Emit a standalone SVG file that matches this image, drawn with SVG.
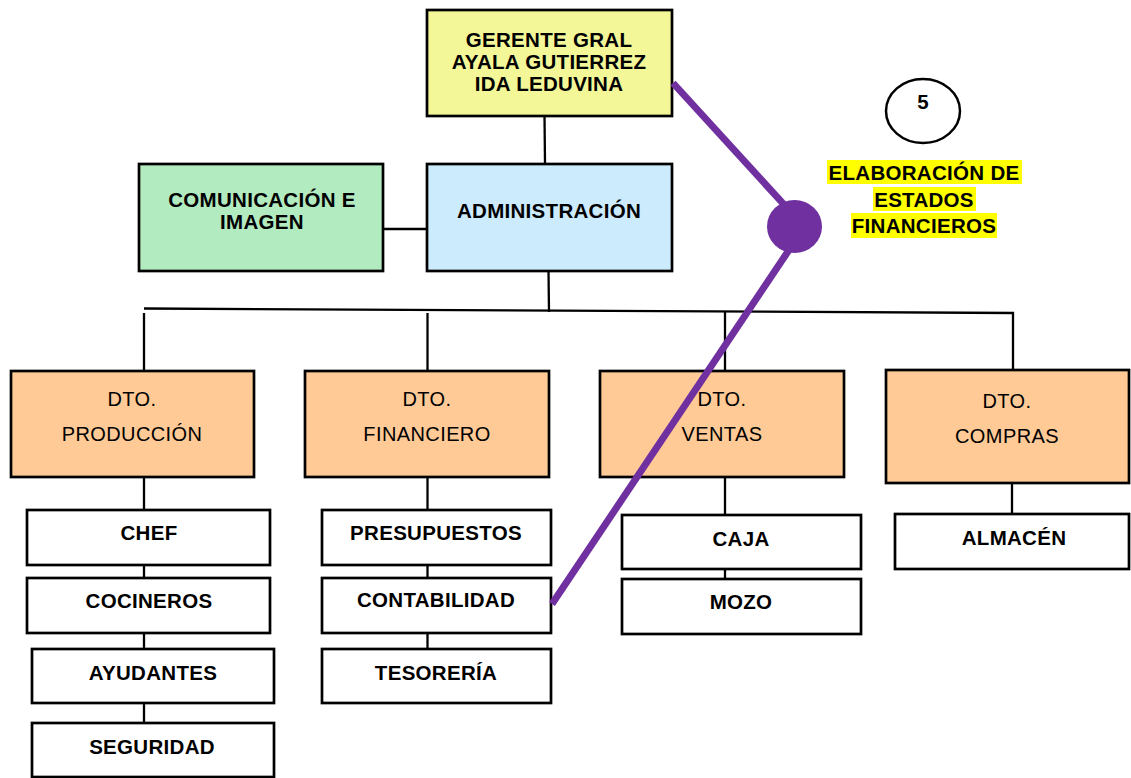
<svg xmlns="http://www.w3.org/2000/svg" width="1131" height="778" viewBox="0 0 1131 778">
<style>
.box{stroke:#000;stroke-width:2.7}
.w{fill:#fff}
.dto{fill:#FFCA96}
.conn line,.conn polyline{stroke:#000;stroke-width:2.3;fill:none}
.b{font-family:"Liberation Sans",Arial,sans-serif;font-weight:bold;font-size:20.5px;fill:#000;text-anchor:middle;letter-spacing:0.3px}
.r{font-family:"Liberation Sans",Arial,sans-serif;font-size:20px;fill:#000;text-anchor:middle;letter-spacing:0.4px}
.hl{fill:#FFFF00}
</style>
<rect width="1131" height="778" fill="#fff"/>
<g id="connectors" class="conn">
<line x1="544.5" y1="116" x2="545" y2="164"/>
<line x1="383" y1="229" x2="427" y2="229"/>
<line x1="548.5" y1="271" x2="549" y2="312"/>
<polyline points="144,308.5 1013,313 1013,370"/>
<line x1="144" y1="313" x2="144" y2="371"/>
<line x1="427.5" y1="313" x2="427.5" y2="371"/>
<line x1="725" y1="312" x2="725" y2="371"/>
<line x1="144" y1="477" x2="144" y2="510"/>
<line x1="144" y1="565" x2="144" y2="578"/>
<line x1="144" y1="633" x2="144" y2="649"/>
<line x1="144" y1="703" x2="144" y2="723"/>
<line x1="427.5" y1="477" x2="427.5" y2="510"/>
<line x1="427.5" y1="565" x2="427.5" y2="578"/>
<line x1="427.5" y1="633" x2="427.5" y2="649"/>
<line x1="725" y1="477" x2="725" y2="515"/>
<line x1="725" y1="569" x2="725" y2="579"/>
<line x1="1012" y1="483" x2="1012" y2="514"/>
</g>
<g id="gerente"><rect class="box" x="427" y="10" width="245" height="106" fill="#F3F797"/>
<text class="b" x="549" y="47">GERENTE GRAL</text>
<text class="b" x="549" y="69">AYALA GUTIERREZ</text>
<text class="b" x="549" y="91">IDA LEDUVINA</text></g>
<g id="administracion"><rect class="box" x="427" y="164" width="245" height="107" fill="#CCEBFC"/>
<text class="b" x="549" y="218">ADMINISTRACIÓN</text></g>
<g id="comunicacion"><rect class="box" x="139" y="164" width="244" height="107" fill="#B3EBC1"/>
<text class="b" x="262" y="207">COMUNICACIÓN E</text>
<text class="b" x="262" y="229">IMAGEN</text></g>
<g id="dto-produccion"><rect class="box dto" x="11" y="371" width="243" height="106"/>
<text class="r" x="132" y="406">DTO.</text><text class="r" x="132" y="441">PRODUCCIÓN</text></g>
<g id="dto-financiero"><rect class="box dto" x="305" y="371" width="244" height="106"/>
<text class="r" x="427" y="406">DTO.</text><text class="r" x="427" y="441">FINANCIERO</text></g>
<g id="dto-ventas"><rect class="box dto" x="600" y="371" width="244" height="106"/>
<text class="r" x="722" y="406">DTO.</text><text class="r" x="722" y="441">VENTAS</text></g>
<g id="dto-compras"><rect class="box dto" x="886" y="370" width="243" height="113"/>
<text class="r" x="1007" y="408">DTO.</text><text class="r" x="1007" y="443">COMPRAS</text></g>
<g id="chef"><rect class="box w" x="27" y="510" width="243" height="55"/><text class="b" x="149" y="540">CHEF</text></g>
<g id="cocineros"><rect class="box w" x="27" y="578" width="243" height="55"/><text class="b" x="149" y="608">COCINEROS</text></g>
<g id="ayudantes"><rect class="box w" x="32" y="649" width="242" height="54"/><text class="b" x="153" y="680">AYUDANTES</text></g>
<g id="seguridad"><rect class="box w" x="32" y="723" width="242" height="54"/><text class="b" x="152" y="754">SEGURIDAD</text></g>
<g id="presupuestos"><rect class="box w" x="322" y="510" width="229" height="55"/><text class="b" x="436" y="540">PRESUPUESTOS</text></g>
<g id="contabilidad"><rect class="box w" x="322" y="578" width="229" height="55"/><text class="b" x="436" y="607">CONTABILIDAD</text></g>
<g id="tesoreria"><rect class="box w" x="322" y="649" width="229" height="54"/><text class="b" x="436" y="680">TESORERÍA</text></g>
<g id="caja"><rect class="box w" x="622" y="515" width="239" height="54"/><text class="b" x="741" y="546">CAJA</text></g>
<g id="mozo"><rect class="box w" x="622" y="579" width="239" height="55"/><text class="b" x="741" y="609">MOZO</text></g>
<g id="almacen"><rect class="box w" x="895" y="514" width="234" height="55"/><text class="b" x="1014" y="545">ALMACÉN</text></g>
<g id="marcador">
<line x1="673" y1="83" x2="789" y2="210" stroke="#7030A0" stroke-width="7"/>
<line x1="797" y1="238" x2="552" y2="604" stroke="#7030A0" stroke-width="7"/>
<ellipse cx="794.5" cy="226.5" rx="27.5" ry="26.5" fill="#7030A0"/>
</g>
<g id="numero"><ellipse cx="923" cy="111" rx="37" ry="32" fill="#fff" stroke="#000" stroke-width="2.5"/>
<text class="b" x="923" y="109">5</text></g>
<g id="nota">
<rect class="hl" x="827" y="160" width="195" height="24"/>
<rect class="hl" x="873" y="187" width="103" height="24"/>
<rect class="hl" x="851" y="213" width="146" height="25"/>
<text class="b" x="924" y="180">ELABORACIÓN DE</text>
<text class="b" x="924" y="207">ESTADOS</text>
<text class="b" x="924" y="233">FINANCIEROS</text>
</g>
</svg>
